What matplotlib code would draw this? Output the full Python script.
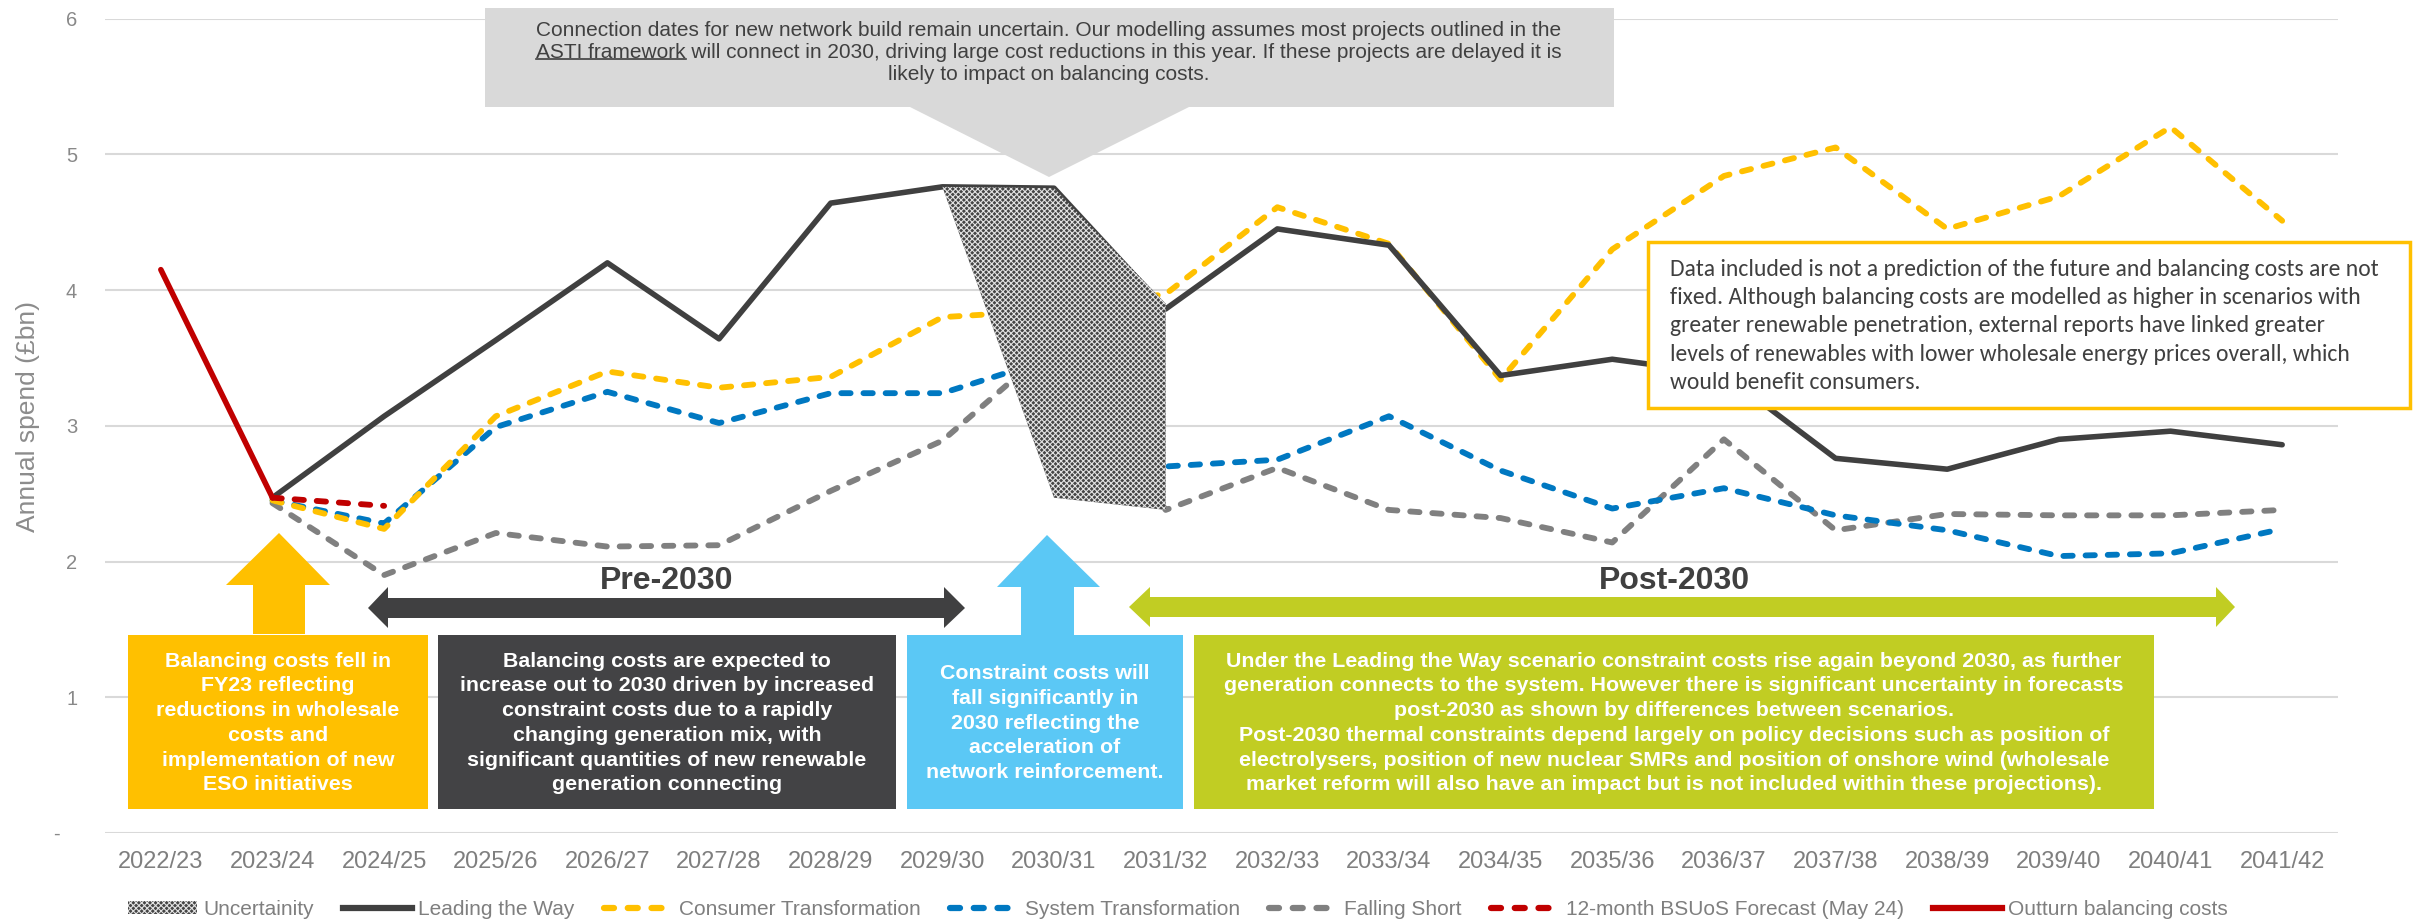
import matplotlib
matplotlib.use('Agg')
import matplotlib.pyplot as plt
from matplotlib import font_manager
from matplotlib.patches import Polygon, Rectangle
from matplotlib.lines import Line2D
from matplotlib.patches import Patch
import numpy as np

nan = np.nan

# ---- data (£bn) ----
years = ['2022/23', '2023/24', '2024/25', '2025/26', '2026/27', '2027/28', '2028/29',
         '2029/30', '2030/31', '2031/32', '2032/33', '2033/34', '2034/35', '2035/36',
         '2036/37', '2037/38', '2038/39', '2039/40', '2040/41', '2041/42']

outturn = [4.15, 2.47] + [nan] * 18
bsuos_forecast = [nan, 2.47, 2.41] + [nan] * 17
leading_the_way = [nan, 2.47, 3.07, 3.63, 4.20, 3.64, 4.64, 4.76, 4.75, 3.86,
                   4.45, 4.33, 3.37, 3.49, 3.38, 2.76, 2.68, 2.90, 2.96, 2.86]
consumer_transformation = [nan, 2.45, 2.24, 3.07, 3.40, 3.28, 3.36, 3.80, 3.85, 3.97,
                           4.61, 4.34, 3.34, 4.30, 4.84, 5.05, 4.45, 4.69, 5.20, 4.51]
system_transformation = [nan, 2.45, 2.28, 2.99, 3.25, 3.02, 3.24, 3.24, 3.50, 2.70,
                         2.75, 3.07, 2.67, 2.39, 2.54, 2.34, 2.23, 2.04, 2.06, 2.24]
falling_short = [nan, 2.43, 1.90, 2.21, 2.11, 2.12, 2.52, 2.89, 3.60, 2.38,
                 2.69, 2.38, 2.32, 2.14, 2.90, 2.23, 2.35, 2.34, 2.34, 2.38]
uncertainty_low = [nan] * 7 + [4.76, 2.47, 2.38] + [nan] * 10
uncertainty_high = [nan] * 7 + [4.76, 4.75, 3.90] + [nan] * 10

ytick_labels = ['-   ', '1', '2', '3', '4', '5', '6']

# ---- fonts ----
installed = {f.name for f in font_manager.fontManager.ttflist}
NARROW = 'Liberation Sans Narrow' if 'Liberation Sans Narrow' in installed else 'Liberation Sans'
BODY = 'Carlito' if 'Carlito' in installed else 'Lato'

W, H = 2419, 921


def fx(px):
    return px / W


def fy(py):
    return 1 - py / H


plt.rcParams['hatch.linewidth'] = 0.8

fig = plt.figure(figsize=(W / 100, H / 100), dpi=100)
ax = fig.add_axes([fx(105), fy(833), fx(2338) - fx(105), fy(18.5) - fy(833)])
x = np.arange(len(years))

C_LTW = '#404040'
C_CT = '#FFC000'
C_ST = '#0078C1'
C_FS = '#808080'
C_RED = '#C00000'
dash = (0, (1.6, 2.2))
HATCH_FACE, HATCH_LINE = '#454545', '#e2e2e2'

ax.plot(x, falling_short, color=C_FS, lw=4.2, ls=dash, dash_capstyle='round', zorder=3)
ax.plot(x, system_transformation, color=C_ST, lw=4.2, ls=dash, dash_capstyle='round', zorder=3)
ax.plot(x, consumer_transformation, color=C_CT, lw=4.2, ls=dash, dash_capstyle='round', zorder=3)
ax.plot(x, leading_the_way, color=C_LTW, lw=4, solid_capstyle='round', zorder=3)
ax.plot(x, bsuos_forecast, color=C_RED, lw=4.2, ls=dash, dash_capstyle='round', zorder=3)
ax.plot(x, outturn, color=C_RED, lw=4, solid_capstyle='round', zorder=3)
ax.fill_between(x, uncertainty_low, uncertainty_high, facecolor=HATCH_FACE,
                edgecolor=HATCH_LINE, hatch='xxxxxx', lw=0, zorder=4)

ax.set_xlim(-0.5, len(years) - 0.5)
ax.set_ylim(0, 6)
ax.set_xticks(x)
ax.set_xticklabels(years, fontsize=17, color='#7f7f7f', family=NARROW)
ax.set_yticks(range(7))
ax.set_yticklabels(ytick_labels, fontsize=14.5, color='#898989', family='Liberation Sans')
ax.tick_params(axis='both', length=0)
ax.tick_params(axis='x', pad=13)
ax.tick_params(axis='y', pad=20)
for s in ax.spines.values():
    s.set_visible(False)
ax.yaxis.grid(True, color='#d9d9d9', lw=1.5)
ax.set_axisbelow(True)

fig.text(fx(28), fy(417), 'Annual spend (£bn)', rotation=90, ha='center', va='center',
         fontsize=19, color='#8c8c8c', family='Liberation Sans')


def rect(x0, y0, x1, y1, **kw):
    fig.add_artist(Rectangle((fx(x0), fy(y1)), fx(x1) - fx(x0), fy(y0) - fy(y1),
                             transform=fig.transFigure, **kw))


def poly(pts, color):
    fig.add_artist(Polygon([(fx(a), fy(b)) for a, b in pts], closed=True,
                           transform=fig.transFigure, facecolor=color, edgecolor='none'))


# ---- top callout ----
poly([(485, 8), (1614, 8), (1614, 107), (1189, 107), (1049, 177), (910, 107), (485, 107)], '#d9d9d9')
callout = ['Connection dates for new network build remain uncertain. Our modelling assumes most projects outlined in the',
           'ASTI framework will connect in 2030, driving large cost reductions in this year. If these projects are delayed it is',
           'likely to impact on balancing costs.']
cprops = dict(fontsize=15, color='#404040', family=NARROW, ha='center', va='center')
ctexts = [fig.text(fx(1049), fy(yy), s, **cprops) for s, yy in zip(callout, [30, 52, 74])]
renderer = fig.canvas.get_renderer()
bb = ctexts[1].get_window_extent(renderer)
tmp = fig.text(0, 0, 'ASTI framework', **cprops)
wp = tmp.get_window_extent(renderer).width
tmp.remove()
fig.add_artist(Line2D([bb.x0 / fig.bbox.width, (bb.x0 + wp) / fig.bbox.width],
                      [(bb.y0 + 2) / fig.bbox.height] * 2, transform=fig.transFigure,
                      color='#404040', lw=1.2))

# ---- right note box ----
rect(1648, 242, 2410, 408, facecolor='white', edgecolor=C_CT, lw=2.5, zorder=5)
fig.text(fx(1670), fy(326),
         'Data included is not a prediction of the future and balancing costs are not\n'
         'fixed. Although balancing costs are modelled as higher in scenarios with\n'
         'greater renewable penetration, external reports have linked greater\n'
         'levels of renewables with lower wholesale energy prices overall, which\n'
         'would benefit consumers.',
         ha='left', va='center', fontsize=17, color='#404040', family=BODY,
         linespacing=1.42, zorder=6)

# ---- arrows ----
poly([(279, 533), (330, 585), (305, 585), (305, 634), (253, 634), (253, 585), (226, 585)], '#FFC000')
poly([(1047, 535), (1100, 587), (1074, 587), (1074, 635), (1021, 635), (1021, 587), (997, 587)], '#5BC8F5')
poly([(368, 608), (388, 587), (388, 598), (944, 598), (944, 587), (965, 608),
      (944, 628), (944, 618), (388, 618), (388, 628)], '#404041')
poly([(1129, 607), (1150, 587), (1150, 597), (2216, 597), (2216, 587), (2235, 607),
      (2216, 627), (2216, 617), (1150, 617), (1150, 627)], '#C1CD23')
fig.text(fx(667), fy(581), 'Pre-2030', ha='center', va='center', fontsize=23,
         fontweight='bold', color='#404040', family=NARROW)
fig.text(fx(1674), fy(581), 'Post-2030', ha='center', va='center', fontsize=23,
         fontweight='bold', color='#404040', family=NARROW)

# ---- bottom boxes ----
boxes = [
    (128, 428, '#FFC000', 'Balancing costs fell in\nFY23 reflecting\nreductions in wholesale\n'
                          'costs and\nimplementation of new\nESO initiatives'),
    (438, 896, '#434345', 'Balancing costs are expected to\nincrease out to 2030 driven by increased\n'
                          'constraint costs due to a rapidly\nchanging generation mix, with\n'
                          'significant quantities of new renewable\ngeneration connecting'),
    (907, 1183, '#5BC8F5', 'Constraint costs will\nfall significantly in\n2030 reflecting the\n'
                           'acceleration of\nnetwork reinforcement.'),
    (1194, 2154, '#C1CD23', 'Under the Leading the Way scenario constraint costs rise again beyond 2030, as further\n'
                            'generation connects to the system. However there is significant uncertainty in forecasts\n'
                            'post-2030 as shown by differences between scenarios.\n'
                            'Post-2030 thermal constraints depend largely on policy decisions such as position of\n'
                            'electrolysers, position of new nuclear SMRs and position of onshore wind (wholesale\n'
                            'market reform will also have an impact but is not included within these projections).'),
]
for x0, x1, col, txt in boxes:
    rect(x0, 635, x1, 809, facecolor=col, edgecolor='none')
    fig.text(fx((x0 + x1) / 2), fy(723), txt, ha='center', va='center', fontsize=15.4,
             fontweight='bold', color='white', family=NARROW, linespacing=1.38)

# ---- legend ----
handles = [
    Patch(facecolor=HATCH_FACE, edgecolor=HATCH_LINE, hatch='xxxxxx', lw=0),
    Line2D([], [], color=C_LTW, lw=4.5),
    Line2D([], [], color=C_CT, lw=4.5, ls=dash, dash_capstyle='round'),
    Line2D([], [], color=C_ST, lw=4.5, ls=dash, dash_capstyle='round'),
    Line2D([], [], color=C_FS, lw=4.5, ls=dash, dash_capstyle='round'),
    Line2D([], [], color=C_RED, lw=4.5, ls=dash, dash_capstyle='round'),
    Line2D([], [], color=C_RED, lw=4.5),
]
labels = ['Uncertainity', 'Leading the Way', 'Consumer Transformation', 'System Transformation',
          'Falling Short', '12-month BSUoS Forecast (May 24)', 'Outturn balancing costs']
fig.legend(handles, labels, loc='center', bbox_to_anchor=(fx(1178), fy(909)), ncol=7,
           frameon=False, handlelength=3.3, handletextpad=0.3, columnspacing=1.4,
           handleheight=0.6, prop={'family': NARROW, 'size': 15}, labelcolor='#7f7f7f')

fig.savefig('out.png', dpi=100)
